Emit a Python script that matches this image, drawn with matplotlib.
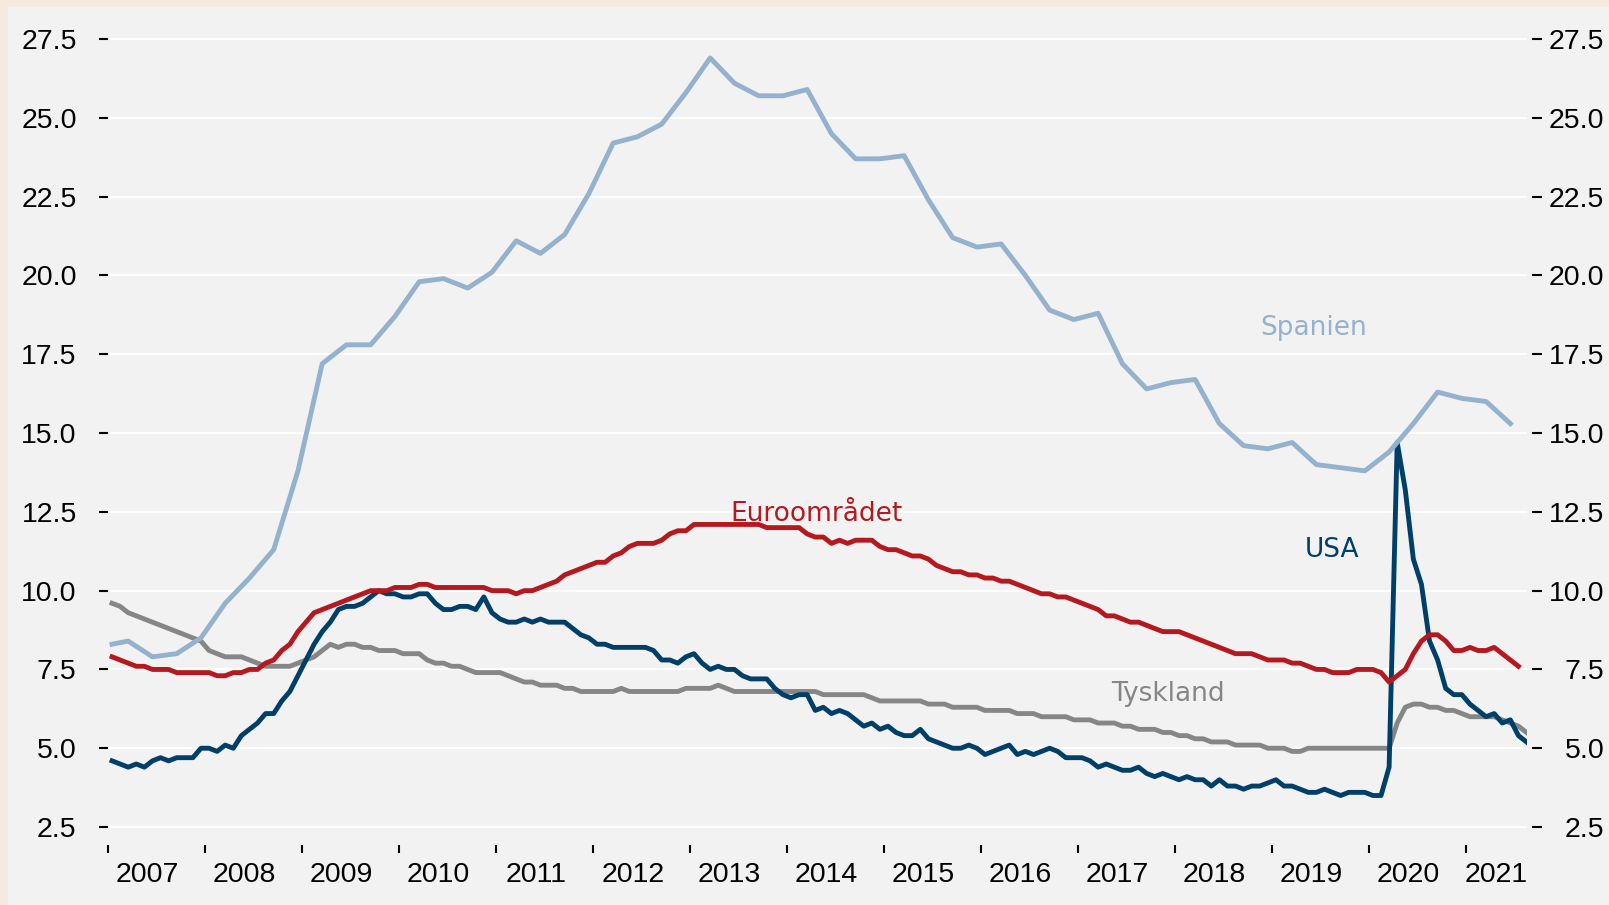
import matplotlib.pyplot as plt
import pandas as pd
from matplotlib.patches import Rectangle

plt.rcParams["font.family"] = ["Liberation Sans", "DejaVu Sans"]

# Arbejdsløshed i pct., månedlig fra jan. 2007
usa = [4.6, 4.5, 4.4, 4.5, 4.4, 4.6, 4.7, 4.6, 4.7, 4.7, 4.7, 5.0,
       5.0, 4.9, 5.1, 5.0, 5.4, 5.6, 5.8, 6.1, 6.1, 6.5, 6.8, 7.3,
       7.8, 8.3, 8.7, 9.0, 9.4, 9.5, 9.5, 9.6, 9.8, 10.0, 9.9, 9.9,
       9.8, 9.8, 9.9, 9.9, 9.6, 9.4, 9.4, 9.5, 9.5, 9.4, 9.8, 9.3,
       9.1, 9.0, 9.0, 9.1, 9.0, 9.1, 9.0, 9.0, 9.0, 8.8, 8.6, 8.5,
       8.3, 8.3, 8.2, 8.2, 8.2, 8.2, 8.2, 8.1, 7.8, 7.8, 7.7, 7.9,
       8.0, 7.7, 7.5, 7.6, 7.5, 7.5, 7.3, 7.2, 7.2, 7.2, 6.9, 6.7,
       6.6, 6.7, 6.7, 6.2, 6.3, 6.1, 6.2, 6.1, 5.9, 5.7, 5.8, 5.6,
       5.7, 5.5, 5.4, 5.4, 5.6, 5.3, 5.2, 5.1, 5.0, 5.0, 5.1, 5.0,
       4.8, 4.9, 5.0, 5.1, 4.8, 4.9, 4.8, 4.9, 5.0, 4.9, 4.7, 4.7,
       4.7, 4.6, 4.4, 4.5, 4.4, 4.3, 4.3, 4.4, 4.2, 4.1, 4.2, 4.1,
       4.0, 4.1, 4.0, 4.0, 3.8, 4.0, 3.8, 3.8, 3.7, 3.8, 3.8, 3.9,
       4.0, 3.8, 3.8, 3.7, 3.6, 3.6, 3.7, 3.6, 3.5, 3.6, 3.6, 3.6,
       3.5, 3.5, 4.4, 14.7, 13.2, 11.0, 10.2, 8.4, 7.8, 6.9, 6.7, 6.7,
       6.4, 6.2, 6.0, 6.1, 5.8, 5.9, 5.4, 5.2]

euro = [7.9, 7.8, 7.7, 7.6, 7.6, 7.5, 7.5, 7.5, 7.4, 7.4, 7.4, 7.4,
        7.4, 7.3, 7.3, 7.4, 7.4, 7.5, 7.5, 7.7, 7.8, 8.1, 8.3, 8.7,
        9.0, 9.3, 9.4, 9.5, 9.6, 9.7, 9.8, 9.9, 10.0, 10.0, 10.0, 10.1,
        10.1, 10.1, 10.2, 10.2, 10.1, 10.1, 10.1, 10.1, 10.1, 10.1, 10.1, 10.0,
        10.0, 10.0, 9.9, 10.0, 10.0, 10.1, 10.2, 10.3, 10.5, 10.6, 10.7, 10.8,
        10.9, 10.9, 11.1, 11.2, 11.4, 11.5, 11.5, 11.5, 11.6, 11.8, 11.9, 11.9,
        12.1, 12.1, 12.1, 12.1, 12.1, 12.1, 12.1, 12.1, 12.1, 12.0, 12.0, 12.0,
        12.0, 12.0, 11.8, 11.7, 11.7, 11.5, 11.6, 11.5, 11.6, 11.6, 11.6, 11.4,
        11.3, 11.3, 11.2, 11.1, 11.1, 11.0, 10.8, 10.7, 10.6, 10.6, 10.5, 10.5,
        10.4, 10.4, 10.3, 10.3, 10.2, 10.1, 10.0, 9.9, 9.9, 9.8, 9.8, 9.7,
        9.6, 9.5, 9.4, 9.2, 9.2, 9.1, 9.0, 9.0, 8.9, 8.8, 8.7, 8.7,
        8.7, 8.6, 8.5, 8.4, 8.3, 8.2, 8.1, 8.0, 8.0, 8.0, 7.9, 7.8,
        7.8, 7.8, 7.7, 7.7, 7.6, 7.5, 7.5, 7.4, 7.4, 7.4, 7.5, 7.5,
        7.5, 7.4, 7.1, 7.3, 7.5, 8.0, 8.4, 8.6, 8.6, 8.4, 8.1, 8.1,
        8.2, 8.1, 8.1, 8.2, 8.0, 7.8, 7.6]

tyskland = [9.6, 9.5, 9.3, 9.2, 9.1, 9.0, 8.9, 8.8, 8.7, 8.6, 8.5, 8.4,
            8.1, 8.0, 7.9, 7.9, 7.9, 7.8, 7.7, 7.6, 7.6, 7.6, 7.6, 7.7,
            7.8, 7.9, 8.1, 8.3, 8.2, 8.3, 8.3, 8.2, 8.2, 8.1, 8.1, 8.1,
            8.0, 8.0, 8.0, 7.8, 7.7, 7.7, 7.6, 7.6, 7.5, 7.4, 7.4, 7.4,
            7.4, 7.3, 7.2, 7.1, 7.1, 7.0, 7.0, 7.0, 6.9, 6.9, 6.8, 6.8,
            6.8, 6.8, 6.8, 6.9, 6.8, 6.8, 6.8, 6.8, 6.8, 6.8, 6.8, 6.9,
            6.9, 6.9, 6.9, 7.0, 6.9, 6.8, 6.8, 6.8, 6.8, 6.8, 6.8, 6.8,
            6.8, 6.8, 6.8, 6.8, 6.7, 6.7, 6.7, 6.7, 6.7, 6.7, 6.6, 6.5,
            6.5, 6.5, 6.5, 6.5, 6.5, 6.4, 6.4, 6.4, 6.3, 6.3, 6.3, 6.3,
            6.2, 6.2, 6.2, 6.2, 6.1, 6.1, 6.1, 6.0, 6.0, 6.0, 6.0, 5.9,
            5.9, 5.9, 5.8, 5.8, 5.8, 5.7, 5.7, 5.6, 5.6, 5.6, 5.5, 5.5,
            5.4, 5.4, 5.3, 5.3, 5.2, 5.2, 5.2, 5.1, 5.1, 5.1, 5.1, 5.0,
            5.0, 5.0, 4.9, 4.9, 5.0, 5.0, 5.0, 5.0, 5.0, 5.0, 5.0, 5.0,
            5.0, 5.0, 5.0, 5.8, 6.3, 6.4, 6.4, 6.3, 6.3, 6.2, 6.2, 6.1,
            6.0, 6.0, 6.0, 6.0, 5.9, 5.8, 5.7, 5.5]

# Spanien: jan. 2007 og derefter kvartalsvis (sidste måned i kvartalet)
spanien = [8.3,
           8.4, 7.9, 8.0, 8.5, 9.6, 10.4, 11.3, 13.8,
           17.2, 17.8, 17.8, 18.7, 19.8, 19.9, 19.6, 20.1,
           21.1, 20.7, 21.3, 22.6, 24.2, 24.4, 24.8, 25.8,
           26.9, 26.1, 25.7, 25.7, 25.9, 24.5, 23.7, 23.7,
           23.8, 22.4, 21.2, 20.9, 21.0, 20.0, 18.9, 18.6,
           18.8, 17.2, 16.4, 16.6, 16.7, 15.3, 14.6, 14.5,
           14.7, 14.0, 13.9, 13.8, 14.4, 15.3, 16.3, 16.1,
           16.0, 15.3]

years = list(range(2007, 2022))
yticks = [2.5, 5.0, 7.5, 10.0, 12.5, 15.0, 17.5, 20.0, 22.5, 25.0, 27.5]

c_spanien = "#94b1ce"
c_euro = "#b5191f"
c_usa = "#003f68"
c_tysk = "#868686"


def xpos(periods):
    return periods.year + (periods.month - 0.5) / 12


maaneder = pd.period_range("2007-01", periods=len(usa), freq="M")
kvartaler = pd.period_range("2007Q1", periods=len(spanien) - 1, freq="Q").asfreq("M", how="end")
spanien_periods = pd.PeriodIndex([pd.Period("2007-01", freq="M")]).append(kvartaler)

W, H = 1609, 905
fig = plt.figure(figsize=(W / 100, H / 100), dpi=100)
fig.patch.set_facecolor("#f6e9df")
fig.patches.append(Rectangle((8 / W, 0), 1, (H - 7) / H, transform=fig.transFigure,
                             facecolor="#f2f2f2", edgecolor="none", zorder=-10))

ax = fig.add_axes([108 / W, 60 / H, (1527 - 108) / W, 828 / H])
ax.set_facecolor("none")

lw = 3.5
ax.plot(xpos(maaneder[:len(tyskland)]), tyskland, color=c_tysk, lw=lw, zorder=3)
ax.plot(xpos(maaneder[:len(usa)]), usa, color=c_usa, lw=lw, zorder=4)
ax.plot(xpos(maaneder[:len(euro)]), euro, color=c_euro, lw=lw, zorder=5)
ax.plot(xpos(spanien_periods), spanien, color=c_spanien, lw=lw, zorder=6)

ax.set_xlim(2007.0, 2021.63)
ax.set_ylim(1.93, 28.2)
for s in ax.spines.values():
    s.set_visible(False)

# x-akse: streger ved årsskifte, årstal midt i året
ax.set_xticks(years)
ax.set_xticklabels([])
lab_pos = [y + 0.41 for y in years[:-1]] + [(years[-1] + 2021.63) / 2]
ax.set_xticks(lab_pos, minor=True)
ax.set_xticklabels([str(y) for y in years], minor=True)
ax.tick_params(axis="x", which="major", length=6, width=1.5, color="black")
ax.tick_params(axis="x", which="minor", length=0, pad=12.5, labelsize=20.5)

ax.set_yticks(yticks)
ax.set_yticklabels([f"{v:.1f}" for v in yticks])
ax.tick_params(axis="y", length=6.5, width=1.5, pad=16, labelsize=20.5)
ax.yaxis.grid(True, color="white", lw=1.4)
ax.set_axisbelow(True)

ax2 = ax.twinx()
ax2.set_ylim(ax.get_ylim())
for s in ax2.spines.values():
    s.set_visible(False)
ax2.spines["right"].set_position(("outward", 3.6))
ax2.set_yticks(yticks)
ax2.set_yticklabels([f"{v:.1f}" for v in yticks], ha="right")
ax2.tick_params(axis="y", length=7, width=1.5, pad=45, labelsize=20.5)

lab_font = dict(family="DejaVu Sans", fontsize=19, ha="center", va="baseline")
ax.text(2019.43, 18.11, "Spanien", color=c_spanien, **lab_font)
ax.text(2014.30, 12.21, "Euroområdet", color=c_euro, **lab_font)
ax.text(2019.62, 11.07, "USA", color=c_usa, **lab_font)
ax.text(2017.93, 6.50, "Tyskland", color=c_tysk, **lab_font)

fig.savefig("out.png", dpi=100, facecolor=fig.get_facecolor())
